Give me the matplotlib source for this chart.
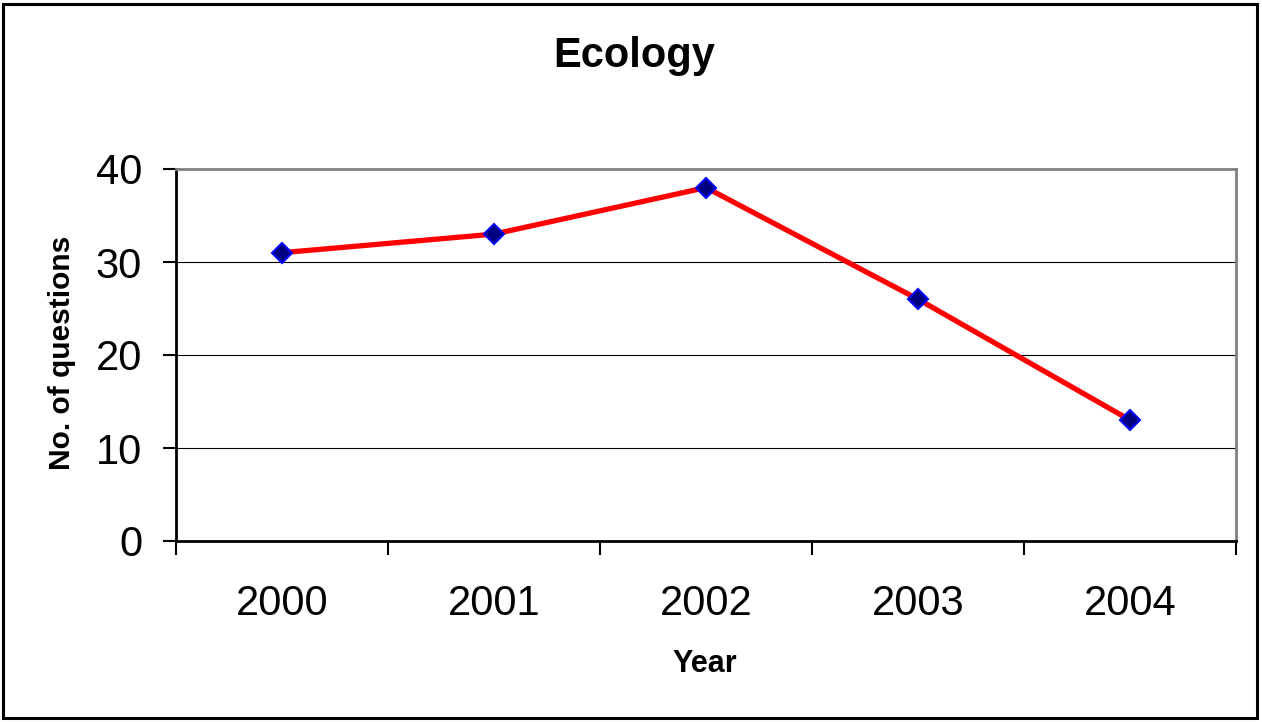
import matplotlib
matplotlib.use("Agg")
import matplotlib.pyplot as plt
from matplotlib.patches import Rectangle

# data
years = ["2000", "2001", "2002", "2003", "2004"]
questions = [31, 33, 38, 26, 13]
y_ticks = [0, 10, 20, 30, 40]

plt.rcParams["font.family"] = ["Liberation Sans", "DejaVu Sans"]

W, H = 1262, 722
fig = plt.figure(figsize=(W / 100, H / 100), dpi=100)
fig.patch.set_facecolor("white")

# plot area in pixels: left 176, right 1236, top 169, bottom 541
ax = fig.add_axes([176 / W, 1 - 541 / H, (1236 - 176) / W, (541 - 169) / H])

x = list(range(len(years)))
ax.plot(x, questions, color="#FF0000", linewidth=3.8, zorder=3,
        marker="D", markersize=10, markerfacecolor="#000080",
        markeredgecolor="#0000FF", markeredgewidth=1.5, clip_on=False)

ax.set_xlim(-0.5, len(years) - 0.5)
ax.set_ylim(0, 40)

# y axis
ax.set_yticks(y_ticks)
ax.tick_params(axis="y", direction="out", length=9.4, width=1.5,
               pad=15, labelsize=30, colors="black")
for v in y_ticks[1:-1]:
    ax.axhline(v, color="black", linewidth=0.8, zorder=1)

# x axis: boundary ticks, labels at category centres
ax.set_xticks([i - 0.5 for i in range(len(years) + 1)])
ax.set_xticklabels([])
ax.set_xticks(x, minor=True)
ax.set_xticklabels(years, minor=True)
ax.tick_params(axis="x", which="major", direction="out", length=10, width=1.5)
ax.tick_params(axis="x", which="minor", length=0, pad=31, labelsize=30)

for s in ["left", "bottom"]:
    ax.spines[s].set_color("black")
    ax.spines[s].set_linewidth(2)
for s in ["top", "right"]:
    ax.spines[s].set_color("#808080")
    ax.spines[s].set_linewidth(2)

fig.text(634 / W, 1 - 67 / H, "Ecology", ha="center", va="baseline",
         fontsize=30, fontweight="bold")
fig.text(705 / W, 1 - 672 / H, "Year", ha="center", va="baseline",
         fontsize=22, fontweight="bold")
fig.text(69.5 / W, 1 - 352.5 / H, "No. of questions", ha="center",
         va="baseline", rotation=90, rotation_mode="anchor",
         fontsize=21.5, fontweight="bold")

# outer chart frame
fig.patches.append(Rectangle((2.5 / W, 4 / H), (1257 - 2.5) / W, (718 - 4) / H,
                             transform=fig.transFigure, fill=False,
                             edgecolor="black", linewidth=2.2))

fig.savefig("out.png", dpi=100)
